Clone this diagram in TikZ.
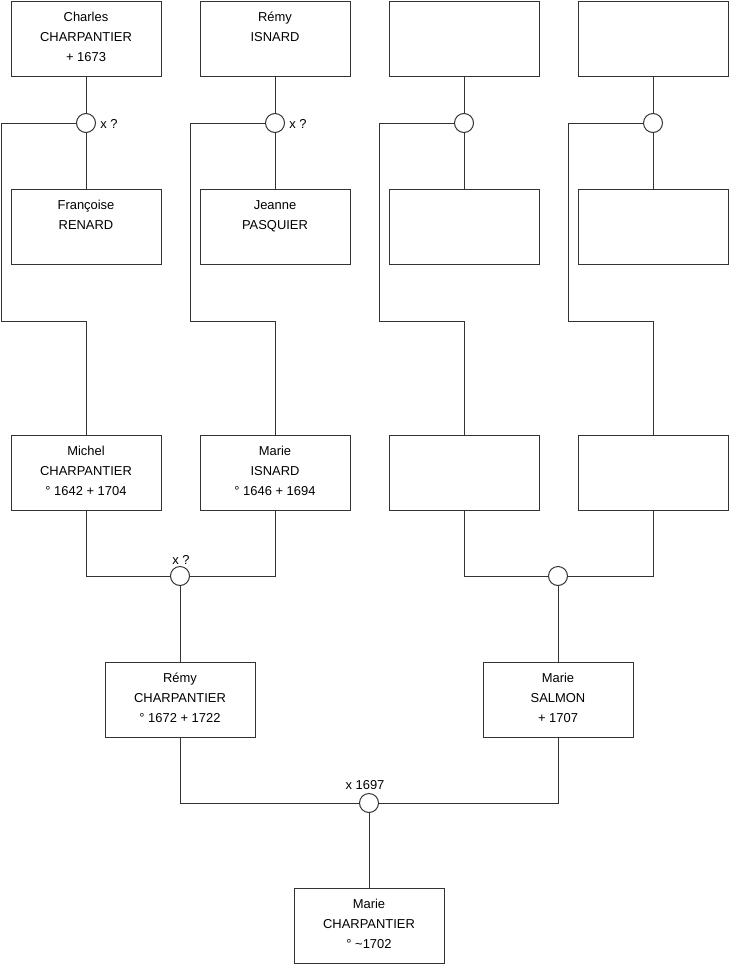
\documentclass[tikz,border=0pt]{standalone}
\usepackage{fontspec}
\setmainfont{Liberation Sans}
\newcommand\pbx[4]{%
  \node[pbox] (#1) at (#2,#3+37.5) {};
  \node[ptext] (#1t) at (#2,#3+6) {#4};}
\begin{document}
\begin{tikzpicture}[x=0.75pt,y=-0.75pt,
  pbox/.style={draw=black!80, line width=0.75pt, minimum width=112.5pt, minimum height=56.25pt, inner sep=0pt, fill=white},
  ptext/.style={font=\fontsize{9.7}{15}\selectfont, align=center, inner sep=0pt, anchor=north},
  union/.style={circle, draw=black!80, line width=0.75pt, minimum size=14.25pt, inner sep=0pt, fill=white},
  conn/.style={draw=black!80, line width=0.75pt},
  lbl/.style={font=\fontsize{9.7}{12}\selectfont, inner sep=0pt}]
\useasboundingbox[fill=white] (0,0) rectangle (740,975);
% row 1
\pbx{A}{86}{1}{\strut Charles\\CHARPANTIER\\+ 1673}
\pbx{B}{275}{1}{\strut Rémy\\ISNARD}
\node[pbox] (C) at (464,38.5) {};
\node[pbox] (D) at (653,38.5) {};
% row 2
\pbx{A2}{86}{189}{\strut Françoise\\RENARD}
\pbx{B2}{275}{189}{\strut Jeanne\\PASQUIER}
\node[pbox] (C2) at (464,226.5) {};
\node[pbox] (D2) at (653,226.5) {};
% row 3
\pbx{M}{86}{435}{\strut Michel\\CHARPANTIER\\° 1642 + 1704}
\pbx{MI}{275}{435}{\strut Marie\\ISNARD\\° 1646 + 1694}
\node[pbox] (C3) at (464,472.5) {};
\node[pbox] (D3) at (653,472.5) {};
% row 4
\pbx{R}{180}{662}{\strut Rémy\\CHARPANTIER\\° 1672 + 1722}
\pbx{S}{558}{662}{\strut Marie\\SALMON\\+ 1707}
% row 5
\pbx{MC}{369}{888}{\strut Marie\\CHARPANTIER\\° \textasciitilde1702}
% unions
\node[union] (c1) at (86,123) {};
\node[union] (c2) at (275,123) {};
\node[union] (c3) at (464,123) {};
\node[union] (c4) at (653,123) {};
\node[union] (c5) at (180,576) {};
\node[union] (c6) at (558,576) {};
\node[union] (c7) at (369,803) {};
% labels
\node[lbl, anchor=west] (l1) at (100,123.5) {x ?};
\node[lbl, anchor=west] (l2) at (289,123.5) {x ?};
\node[lbl] (l5) at (181,559.5) {x ?};
\node[lbl] (l7) at (365,785.5) {x 1697};
% connectors
\draw[conn] (A.south) -- (c1.north);
\draw[conn] (c1.south) -- (A2.north);
\draw[conn] (c1.west) -| (1,321) -| (M.north);
\draw[conn] (B.south) -- (c2.north);
\draw[conn] (c2.south) -- (B2.north);
\draw[conn] (c2.west) -| (190,321) -| (MI.north);
\draw[conn] (C.south) -- (c3.north);
\draw[conn] (c3.south) -- (C2.north);
\draw[conn] (c3.west) -| (379,321) -| (C3.north);
\draw[conn] (D.south) -- (c4.north);
\draw[conn] (c4.south) -- (D2.north);
\draw[conn] (c4.west) -| (568,321) -| (D3.north);
\draw[conn] (M.south) |- (c5.west);
\draw[conn] (c5.east) -| (MI.south);
\draw[conn] (c5.south) -- (R.north);
\draw[conn] (C3.south) |- (c6.west);
\draw[conn] (c6.east) -| (D3.south);
\draw[conn] (c6.south) -- (S.north);
\draw[conn] (R.south) |- (c7.west);
\draw[conn] (c7.east) -| (S.south);
\draw[conn] (c7.south) -- (MC.north);
\end{tikzpicture}
\end{document}
